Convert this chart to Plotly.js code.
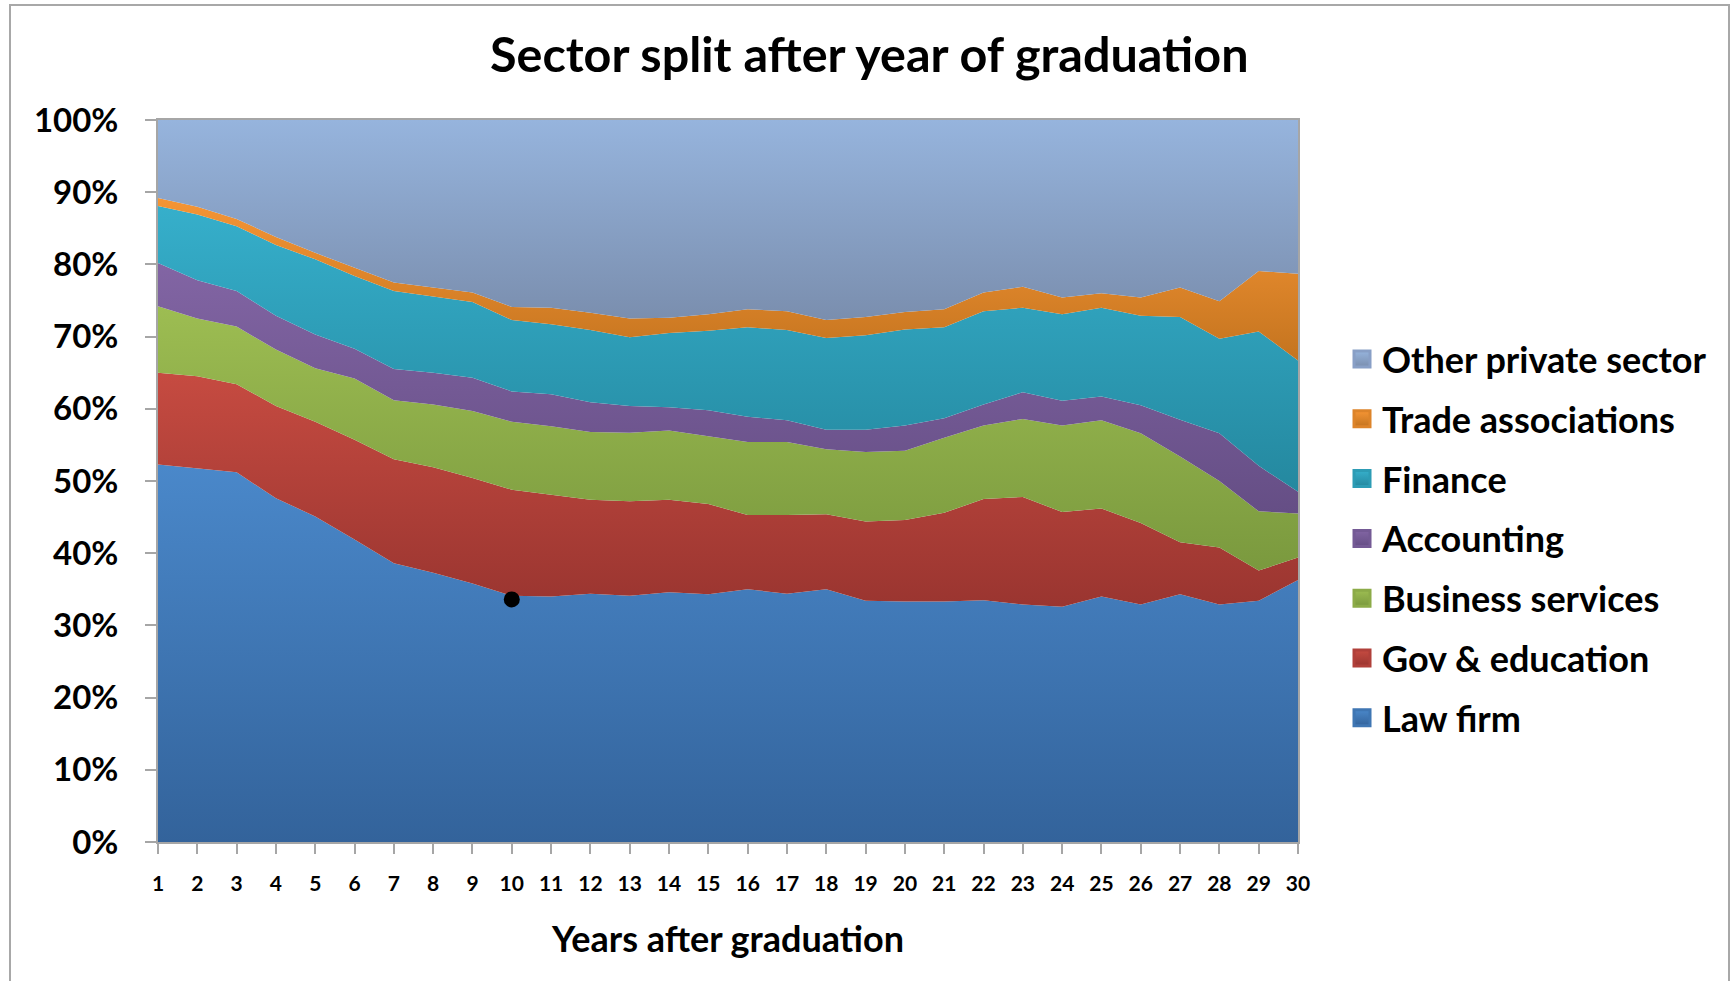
<!DOCTYPE html>
<html>
<head>
<meta charset="utf-8">
<script src="https://cdn.plot.ly/plotly-3.0.1.min.js"></script>
<style>
  html, body { margin: 0; padding: 0; background: #ffffff; }
  #frame { position: absolute; left: 9px; top: 4px; width: 1721px; height: 1010px; border: 2px solid #a8a8a8; box-sizing: border-box; }
  #chart { position: absolute; left: 0; top: 0; width: 1735px; height: 981px; }
</style>
</head>
<body>
<div id="frame"></div>
<div id="chart"></div>
<script>
// ---- Data (percent share of graduates by sector) ----
const years = [1,2,3,4,5,6,7,8,9,10,11,12,13,14,15,16,17,18,19,20,21,22,23,24,25,26,27,28,29,30];

const lawFirm = [52.3,51.7,51.2,47.6,45.1,41.9,38.6,37.3,35.8,34.1,34.0,34.4,34.1,34.6,34.3,35.0,34.4,35.0,33.4,33.3,33.3,33.5,32.9,32.6,34.0,32.9,34.3,32.9,33.4,36.3];
const govEducation = [12.7,12.8,12.2,12.8,13.1,13.8,14.4,14.6,14.6,14.7,14.1,13.0,13.1,12.8,12.5,10.3,10.9,10.4,11.0,11.3,12.3,14.0,14.9,13.1,12.2,11.3,7.2,7.9,4.2,3.1];
const businessServices = [9.2,8.0,8.0,7.8,7.4,8.5,8.2,8.7,9.3,9.4,9.5,9.4,9.5,9.6,9.4,10.1,10.1,9.0,9.6,9.6,10.4,10.2,10.8,12.0,12.2,12.4,11.9,9.2,8.2,6.1];
const accounting = [6.0,5.3,4.9,4.7,4.7,4.1,4.3,4.4,4.6,4.2,4.4,4.1,3.7,3.2,3.6,3.5,3.0,2.7,3.1,3.5,2.7,2.9,3.7,3.4,3.3,3.9,5.1,6.6,6.3,3.0];
const finance = [7.9,9.1,9.0,9.8,10.4,10.1,10.8,10.5,10.5,9.9,9.7,10.0,9.5,10.3,11.0,12.4,12.5,12.7,13.1,13.3,12.6,12.9,11.7,12.0,12.3,12.4,14.2,13.1,18.6,18.2];
const tradeAssociations = [1.1,1.1,1.0,1.1,0.9,1.1,1.2,1.3,1.3,1.8,2.3,2.4,2.6,2.1,2.3,2.5,2.6,2.5,2.5,2.4,2.5,2.6,2.9,2.3,2.0,2.5,4.1,5.2,8.4,12.0];
const otherPrivate = [10.8,12.0,13.7,16.2,18.4,20.5,22.5,23.2,23.9,25.9,26.0,26.7,27.5,27.4,26.9,26.2,26.5,27.7,27.3,26.6,26.2,23.9,23.1,24.6,24.0,24.6,23.2,25.1,20.9,21.3];

const seriesNames = ["Law firm","Gov & education","Business services","Accounting","Finance","Trade associations","Other private sector"];
const seriesValues = [lawFirm, govEducation, businessServices, accounting, finance, tradeAssociations, otherPrivate];

// highlighted point
const markYear = [10];
const markValue = [33.6];

const yTickVals = [0,10,20,30,40,50,60,70,80,90,100];
const yTickText = ["0%","10%","20%","30%","40%","50%","60%","70%","80%","90%","100%"];

// ---- Styles ----
const topColors    = ["#4A88CA","#C64B41","#9DBD52","#8265A4","#36AFCB","#F59535","#96B4DD"];
const midColors    = ["#3F76B3","#B0403A","#8CAB48","#745A95","#2D9CB5","#DD842A","#889FC6"];
const bottomColors = ["#33639B","#9A3530","#7A993E","#654E85","#24889F","#C4741F","#7A8EAE"];
const FONT = "Lato, 'Open Sans', sans-serif";

const traces = [];
let cumBottom = years.map(() => 0);
seriesValues.forEach((vals, i) => {
  const cumTop = vals.map((v, k) => cumBottom[k] + v);
  const lo = Math.min(...cumBottom);
  const hi = Math.max(...cumTop);
  traces.push({
    type: "scatter",
    mode: "lines",
    x: years,
    y: vals,
    stackgroup: "one",
    line: { width: 0, color: topColors[i] },
    fillcolor: topColors[i],
    fillgradient: {
      type: "vertical",
      start: lo,
      stop: hi,
      colorscale: [[0, bottomColors[i]], [1, topColors[i]]]
    },
    name: seriesNames[i],
    showlegend: false,
    hoverinfo: "x+y+name"
  });
  cumBottom = cumTop;
});

// legend-only swatches (top of legend = top of stack)
for (let i = seriesNames.length - 1; i >= 0; i--) {
  traces.push({
    type: "scatter",
    mode: "markers",
    x: [null], y: [null],
    name: seriesNames[i],
    legendgroup: "g" + i,
    marker: { symbol: "square", size: 16, color: topColors[i],
              gradient: { type: "vertical", color: bottomColors[i] },
              line: { width: 3, color: midColors[i] } },
    showlegend: true
  });
}

// highlighted black dot
traces.push({
  type: "scatter",
  mode: "markers",
  x: markYear,
  y: markValue,
  marker: { color: "#000000", size: 16, line: { width: 0 } },
  showlegend: false,
  hoverinfo: "skip"
});

const layout = {
  width: 1735,
  height: 981,
  paper_bgcolor: "rgba(0,0,0,0)",
  plot_bgcolor: "#ffffff",
  margin: { l: 158, r: 437, t: 120, b: 139, pad: 0 },
  font: { family: FONT, color: "#000000" },
  title: {
    text: "<b>Sector split after year of graduation</b>",
    font: { family: FONT, size: 48.5, color: "#000000" },
    x: 0.501, xanchor: "center", xref: "container",
    y: 0.944, yanchor: "middle", yref: "container"
  },
  xaxis: {
    range: [1, 30],
    tickmode: "array",
    tickvals: years,
    ticktext: years.map(String),
    ticks: "outside", ticklen: 10, tickwidth: 2, tickcolor: "#a6a6a6",
    showline: true, linecolor: "#a6a6a6", linewidth: 2, mirror: true,
    showgrid: false, zeroline: false,
    tickfont: { family: FONT, size: 21, color: "#000000", weight: "bold" },
    ticklabelstandoff: 12,
    title: { text: "<b>Years after graduation</b>", font: { family: FONT, size: 36, color: "#000000" }, standoff: 33 }
  },
  yaxis: {
    range: [0, 100],
    tickmode: "array",
    tickvals: yTickVals,
    ticktext: yTickText,
    ticks: "outside", ticklen: 11, tickwidth: 2, tickcolor: "#a6a6a6",
    showline: true, linecolor: "#a6a6a6", linewidth: 2, mirror: true,
    showgrid: false, zeroline: false,
    tickfont: { family: FONT, size: 33, color: "#000000", weight: "bold" },
    ticklabelstandoff: 20
  },
  legend: {
    x: 1.0386, xanchor: "left",
    y: 0.7104, yanchor: "top",
    traceorder: "grouped",
    tracegroupgap: 10,
    bgcolor: "rgba(0,0,0,0)",
    font: { family: FONT, size: 36, color: "#000000", weight: "bold" }
  },
  showlegend: true
};

Plotly.newPlot("chart", traces, layout, { displayModeBar: false, staticPlot: true });
</script>
</body>
</html>
